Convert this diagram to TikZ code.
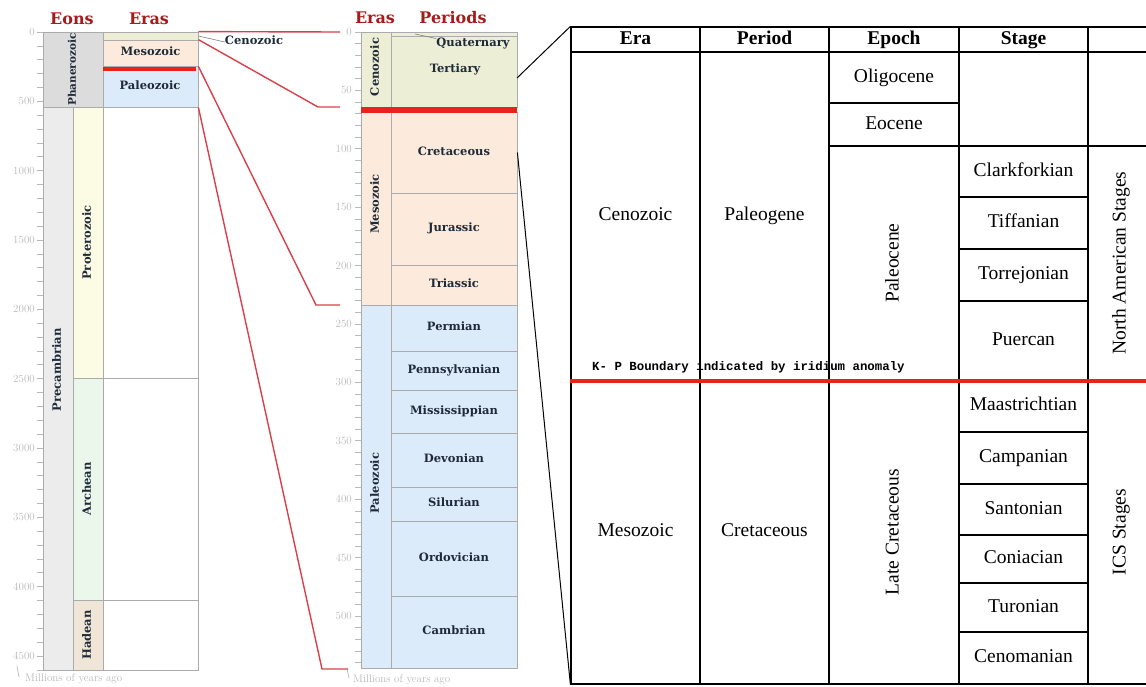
\documentclass[tikz,border=0pt]{standalone}
\usepackage{fontspec}
\newfontfamily\tabfont{Liberation Serif}
\newfontfamily\kpfont{Liberation Mono}
\newfontfamily\labfont{DejaVu Serif}
\usetikzlibrary{fit}

\definecolor{hdred}{HTML}{A51C1C}
\definecolor{linkred}{HTML}{D8404A}
\definecolor{barred}{HTML}{E8231A}
\definecolor{rulegray}{HTML}{ABABAB}
\definecolor{scalegray}{HTML}{B8B8B8}
\definecolor{inkblue}{HTML}{1E2A38}
\definecolor{phancol}{HTML}{DCDCDC}
\definecolor{precol}{HTML}{ECECEC}
\definecolor{protcol}{HTML}{FCFCE4}
\definecolor{archcol}{HTML}{EAF7EA}
\definecolor{hadcol}{HTML}{EFE6D7}
\definecolor{cenocol}{HTML}{ECEED5}
\definecolor{mesocol}{HTML}{FCEBDC}
\definecolor{paleocol}{HTML}{DCEBFA}

\tikzset{
  gbox/.style={draw=rulegray, line width=0.8pt, inner sep=0pt},
  glab/.style={inner sep=0pt, text=inkblue, text height=8pt, text depth=2.5pt,
    font=\labfont\bfseries\fontsize{11.5}{11.5}\selectfont},
  vlab/.style={glab, rotate=90},
  colhead/.style={text=hdred, inner sep=0pt, text height=11pt, text depth=0pt,
    font=\labfont\bfseries\fontsize{16}{16}\selectfont},
  scaletick/.style={draw=scalegray, line width=0.7pt},
  scalelab/.style={text=scalegray, inner sep=0pt, anchor=east, font=\fontsize{11}{11}\selectfont},
  mya/.style={text=scalegray, inner sep=0pt, anchor=west, font=\fontsize{11}{11}\selectfont},
  link/.style={draw=linkred, line width=1.4pt},
  tcell/.style={draw=black, line width=1.2pt, inner sep=0pt},
  tlab/.style={inner sep=0pt, text height=13pt, text depth=4pt,
    font=\tabfont\fontsize{19.5}{19.5}\selectfont},
  thead/.style={tlab, font=\tabfont\bfseries\fontsize{19.5}{19.5}\selectfont},
  tvlab/.style={tlab, rotate=90},
}

\begin{document}
\begin{tikzpicture}[x=1pt,y=-1pt]
\useasboundingbox (0,0) rectangle (1146,686);

% column headings
\node[colhead] (heons) at (72,19) {Eons};
\node[colhead] (heras) at (149,19) {Eras};
\node[colhead] (meras) at (375,18) {Eras};
\node[colhead] (mperiods) at (453,18) {Periods};

% left scale, 0--4600 Ma
\foreach \m in {0,100,...,4600}
  \draw[scaletick] (37,{32+0.13867*\m}) -- (43,{32+0.13867*\m});
\foreach \m in {0,500,...,4500}
  \node[scalelab] (lt\m) at (35,{32+0.13867*\m}) {\oldstylenums{\m}};
\node[mya] (lmya) at (25,679) {Millions of years ago};
\draw[scaletick] (lmya.west) ++(-6,-2) -- ++(-2,-11);

% eons
\node[gbox, fill=phancol, fit={(43,32)(103,107)}] (phan) {};
\node[vlab, font=\labfont\bfseries\fontsize{10.5}{10.5}\selectfont] (phanlab) at (phan.center) {Phanerozoic};
\node[gbox, fill=precol, fit={(43,107)(73,670)}] (precamb) {};
\node[vlab] (precamblab) at (58,370) {Precambrian};
\node[gbox, fill=protcol, fit={(73,107)(103,378)}] (protero) {};
\node[vlab] (proterolab) at (protero.center) {Proterozoic};
\node[gbox, fill=archcol, fit={(73,378)(103,600)}] (archean) {};
\node[vlab] (archeanlab) at (archean.center) {Archean};
\node[gbox, fill=hadcol, fit={(73,600)(103,670)}] (hadean) {};
\node[vlab] (hadeanlab) at (hadean.center) {Hadean};

% eras
\node[gbox, fill=cenocol, fit={(103,32)(198,40)}] (lceno) {};
\node[gbox, fill=mesocol, fit={(103,40)(198,66)}] (lmeso) {};
\node[glab] (lmesolab) at (lmeso.center) {Mesozoic};
\node[gbox, fill=paleocol, fit={(103,66)(198,107)}] (lpaleo) {};
\node[glab] (lpaleolab) at (150,87) {Paleozoic};
\fill[barred] (103,66.5) rectangle (196,71);
\node[gbox, fit={(103,107)(198,378)}] (lprot) {};
\node[gbox, fit={(103,378)(198,600)}] (larch) {};
\node[gbox, fit={(103,600)(198,670)}] (lhad) {};
\node[glab] (cenolab) at (254,42) {Cenozoic};
\draw[draw=gray, line width=0.6pt] (lceno.east) -- (cenolab.west);

% middle scale, 0--540 Ma
\foreach \m in {0,10,...,540}
  \draw[scaletick] (355,{32+1.168*\m}) -- (361,{32+1.168*\m});
\foreach \m in {0,50,...,500}
  \node[scalelab] (mt\m) at (352,{32+1.168*\m}) {\oldstylenums{\m}};
\node[mya] (mmya) at (353,680) {Millions of years ago};
\draw[scaletick] (mmya.west) ++(-4,-2) -- ++(-2,-9);

% middle eras
\node[gbox, fill=cenocol, fit={(361,32)(391,107)}] (mceno) {};
\node[vlab] (mcenolab) at (376,67) {Cenozoic};
\node[gbox, fill=mesocol, fit={(361,112)(391,305)}] (mmeso) {};
\node[vlab] (mmesolab) at (376,204) {Mesozoic};
\node[gbox, fill=paleocol, fit={(361,305)(391,668)}] (mpaleo) {};
\node[vlab] (mpaleolab) at (376,483) {Paleozoic};

% periods
\node[gbox, fill=cenocol, fit={(391,32)(517,36)}] (quat) {};
\node[gbox, fill=cenocol, fit={(391,36)(517,107)}] (tert) {};
\node[glab] (tertlab) at (455,70) {Tertiary};
\node[glab] (quatlab) at (473,44) {Quaternary};
\draw[draw=gray, line width=0.6pt] (415,34) -- (quatlab.north west);
\foreach \nm/\ya/\yb/\txt in {cret/112/193/Cretaceous, jura/193/265/Jurassic,
    tria/265/305/Triassic}{
  \node[gbox, fill=mesocol, fit={(391,\ya)(517,\yb)}] (\nm) {};
  \node[glab] (\nm lab) at (\nm.center) {\txt};
}
\foreach \nm/\ya/\yb/\txt in {perm/305/351/Permian, penn/351/390/Pennsylvanian,
    miss/390/433/Mississippian, devo/433/487/Devonian, silu/487/521/Silurian,
    ordo/521/596/Ordovician, camb/596/668/Cambrian}{
  \node[gbox, fill=paleocol, fit={(391,\ya)(517,\yb)}] (\nm) {};
  \node[glab] (\nm lab) at (\nm.center) {\txt};
}
\fill[barred] (361,107) rectangle (517,112.5);

% red links left -> middle
\coordinate (m0) at (340,32);
\coordinate (b66) at (318,107);
\coordinate (m66) at (340,107);
\coordinate (b252) at (316,305);
\coordinate (m252) at (340,305);
\coordinate (b541) at (322,669);
\coordinate (m541) at (348,669);
\draw[link] (lceno.north east) -- (m0);
\draw[link] (lmeso.north east) -- (b66) -- (m66);
\draw[link] (lmeso.south east) -- (b252) -- (m252);
\draw[link] (lpaleo.south east) -- (b541) -- (m541);

% table
\foreach \nm/\xa/\xb/\txt in {hera/571/700/Era, hper/700/829/Period,
    hepo/829/959/Epoch, hstg/959/1088/Stage, hlast/1088/1152/{}}{
  \node[tcell, fit={(\xa,27)(\xb,52)}] (\nm) {};
  \node[thead] (\nm lab) at (\nm.center) {\txt};
}
\foreach \nm/\xa/\ya/\xb/\yb/\txt in {cera/571/52/700/380/Cenozoic,
    mera/571/380/700/684/Mesozoic, cper/700/52/829/380/Paleogene,
    mper/700/380/829/684/Cretaceous, oligo/829/52/959/103/Oligocene,
    eoc/829/103/959/146/Eocene, stg0/959/52/1088/146/{},
    clark/959/146/1088/197/Clarkforkian, tiff/959/197/1088/249/Tiffanian,
    torre/959/249/1088/301/Torrejonian, puer/959/301/1088/380/Puercan,
    maas/959/380/1088/432/Maastrichtian, camp/959/432/1088/484/Campanian,
    sant/959/484/1088/535/Santonian, coni/959/535/1088/583/Coniacian,
    turo/959/583/1088/632/Turonian, ceno/959/632/1088/684/Cenomanian,
    last0/1088/52/1152/146/{}}{
  \node[tcell, fit={(\xa,\ya)(\xb,\yb)}] (\nm) {};
  \node[tlab] (\nm lab) at (\nm.center) {\txt};
}
\node[tcell, fit={(829,146)(959,380)}] (paleoc) {};
\node[tvlab] (paleoclab) at (paleoc.center) {Paleocene};
\node[tcell, fit={(829,380)(959,684)}] (latecr) {};
\node[tvlab] (latecrlab) at (latecr.center) {Late Cretaceous};
\node[tcell, fit={(1088,146)(1152,380)}] (nas) {};
\node[tvlab] (naslab) at (1121,263) {North American Stages};
\node[tcell, fit={(1088,380)(1152,684)}] (ics) {};
\node[tvlab] (icslab) at (1121,532) {ICS Stages};
\draw[barred, line width=4pt] (cera.south west) -- (nas.south east);
\node[inner sep=0pt, anchor=west, font=\kpfont\bfseries\fontsize{12.4}{12.4}\selectfont] (kpnote) at (592,367)
  {K- P Boundary indicated by iridium anomaly};

% black links middle -> table
\coordinate (t1) at (517,78);
\draw[line width=1pt] (t1) -- (hera.north west);
\draw[line width=1pt] (cret.east) -- (mera.south west);
\end{tikzpicture}
\end{document}
